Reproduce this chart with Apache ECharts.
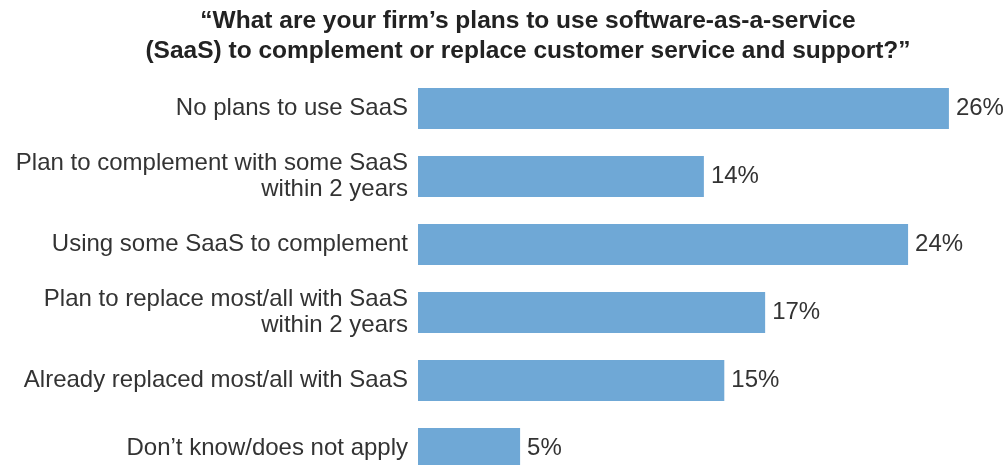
<!DOCTYPE html>
<html><head><meta charset="utf-8">
<script src="https://cdn.jsdelivr.net/npm/echarts@6/dist/echarts.min.js"></script>
<style>html,body{margin:0;padding:0;background:#fff;overflow:hidden;width:1008px;height:465px}#c{width:1060px;height:500px}</style>
</head><body><div id="c"></div>
<script>
const categories = [
  "No plans to use SaaS",
  "Plan to complement with some SaaS\nwithin 2 years",
  "Using some SaaS to complement",
  "Plan to replace most/all with SaaS\nwithin 2 years",
  "Already replaced most/all with SaaS",
  "Don\u2019t know/does not apply"
];
const values = [26, 14, 24, 17, 15, 5];
const titleText = "\u201cWhat are your firm\u2019s plans to use software-as-a-service\n(SaaS) to complement or replace customer service and support?\u201d";

const chart = echarts.init(document.getElementById('c'));
chart.setOption({
  animation: false,
  title: {
    text: titleText,
    left: 523, textAlign: 'center', top: 1,
    textStyle: { fontFamily: 'Liberation Sans', fontWeight: 'bold', fontSize: 24.5, lineHeight: 30, color: '#222' }
  },
  grid: { left: 418, top: 74.5, width: 612.6, height: 408, containLabel: false },
  xAxis: { type: 'value', min: 0, max: 30, show: false },
  yAxis: {
    type: 'category', data: categories, inverse: true,
    axisLine: { show: false }, axisTick: { show: false },
    axisLabel: { margin: 10, fontFamily: 'Liberation Sans', fontSize: 24, lineHeight: 26, color: '#333', align: 'right' }
  },
  series: [{
    type: 'bar', data: values, barWidth: 41,
    itemStyle: { color: '#6fa8d6' },
    label: { show: true, position: 'right', distance: 7, formatter: '{c}%', fontFamily: 'Liberation Sans', fontSize: 24, color: '#333' }
  }]
});
</script></body></html>
